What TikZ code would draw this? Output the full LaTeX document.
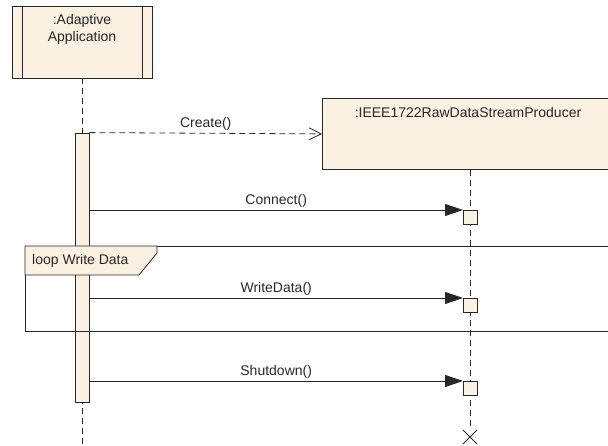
\documentclass[tikz,border=0pt]{standalone}
\usepackage{fontspec}
\setmainfont{Liberation Sans}
\usetikzlibrary{arrows.meta,positioning,calc}
\definecolor{umlFill}{RGB}{251,241,226}
\definecolor{umlLine}{RGB}{40,40,40}
\tikzset{
myObject/.style={
	rectangle,draw=umlLine,fill=umlFill,thick,
	inner sep=0pt,minimum width=140pt,minimum height=72pt
}
, myActive/.style={
	myObject,
	path picture = {
		\draw[umlLine,thick]
		($(path picture bounding box.north west)+(10pt,0)$) -- ($(path picture bounding box.south west)+(10pt,0)$)
		($(path picture bounding box.north east)+(-10pt,0)$) -- ($(path picture bounding box.south east)+(-10pt,0)$);
	}
}
, myBar/.style={
	rectangle,draw=umlLine,fill=umlFill,thick,
	inner sep=0pt,minimum width=14pt,minimum height=269pt
}
, myExec/.style={
	rectangle,draw=umlLine,fill=umlFill,thick,
	inner sep=0pt,minimum size=14pt,anchor=north west
}
, myText/.style={font=\fontsize{14}{17}\selectfont,text=umlLine,inner sep=1pt}
% links
, myLifeline/.style={umlLine,thick,dash pattern=on 6pt off 4pt}
, myCall/.style={-{Triangle[length=18pt,width=12pt]},umlLine,thick}
, myCreate/.style={-{Straight Barb[length=12pt,width=12pt]},umlLine,thick,dash pattern=on 6pt off 4pt}
}

\begin{document}
\begin{tikzpicture}[x=1pt,y=-1pt]
	\useasboundingbox (0,0) rectangle (608,446);
	% lifelines
	\node[myActive] (App) at (82,42) {};
	\node[myText,align=center] (AppName) at (82,29) {:Adaptive\\Application};
	\node[myObject,minimum width=298pt,minimum height=71pt,anchor=north west] (Prod) at (322,98) {};
	\node[myText] (ProdName) at (468,112) {:IEEE1722RawDataStreamProducer};
	\coordinate (AppEnd) at (82,446);
	\node[draw=none,inner sep=0pt,minimum size=14pt] (ProdEnd) at (470,437) {};
	\draw[myLifeline] (App.south) -- (AppEnd);
	\draw[myLifeline] (Prod.south -| ProdEnd) -- (ProdEnd.north);
	\draw[umlLine,thick] (ProdEnd.north west) -- (ProdEnd.south east)
		(ProdEnd.south west) -- (ProdEnd.north east);
	% activation
	\node[myBar] (Bar) at (82,267.5) {};
	\node[myExec] (ExecConnect) at (463,210) {};
	\node[myExec] (ExecWrite) at (463,298) {};
	\node[myExec] (ExecShut) at (463,381) {};
	% loop frame
	\draw[umlLine,thick] (25,246) rectangle (620,331);
	\draw[umlLine,thick,fill=umlFill] (25,246) -- (157,246) -- (157,253) -- (139,275) -- (25,275) -- cycle;
	\node[myText,anchor=west] (LoopName) at (31,261) {loop Write Data};
	% messages
	\draw[myCreate] (Bar.north east) -- node[myText,above=1pt] {Create()} (Prod.west);
	\draw[myCall] (Bar.east |- ExecConnect.north west) -- node[myText,above=1pt] {Connect()} (ExecConnect.north west);
	\draw[myCall] (Bar.east |- ExecWrite.north west) -- node[myText,above=1pt] {WriteData()} (ExecWrite.north west);
	\draw[myCall] (Bar.east |- ExecShut.north west) -- node[myText,above=1pt] {Shutdown()} (ExecShut.north west);
\end{tikzpicture}
\end{document}
